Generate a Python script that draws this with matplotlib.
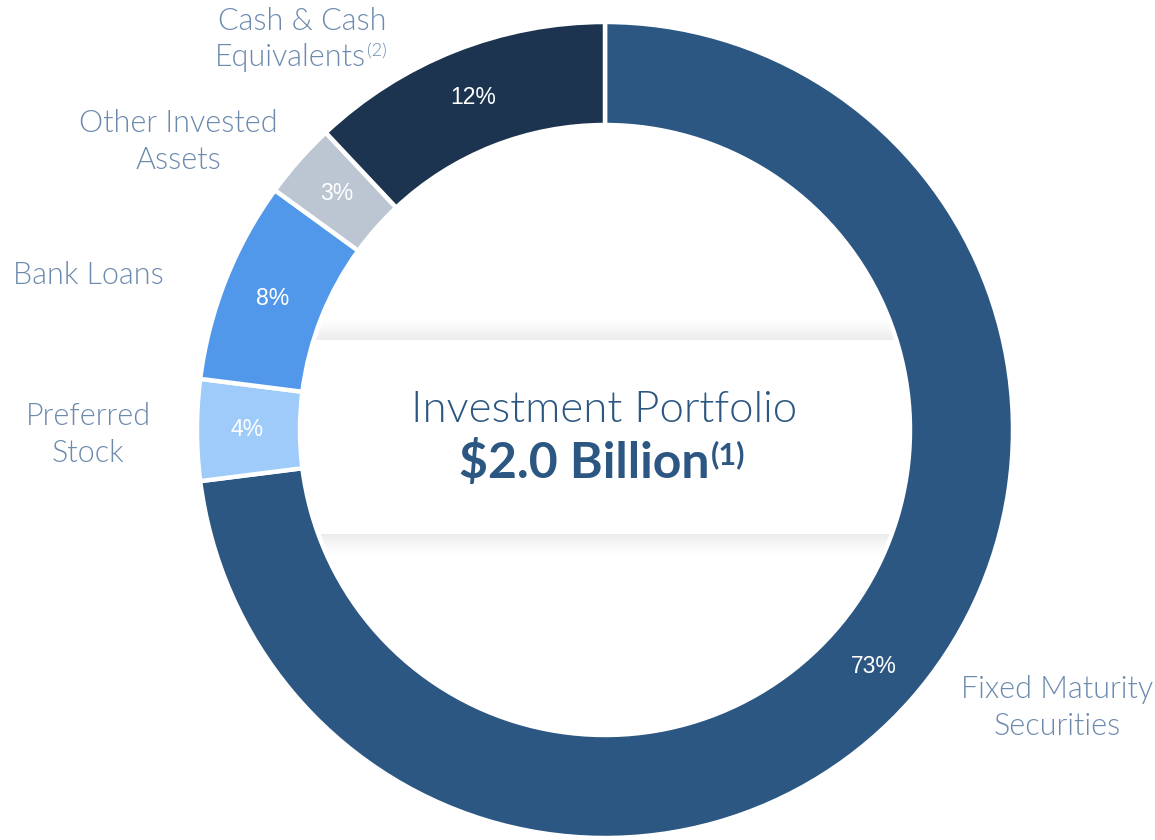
import numpy as np
import matplotlib
matplotlib.use("Agg")
import matplotlib.pyplot as plt
from matplotlib.patches import Circle

# data (clockwise from 12 o'clock)
categories = ["Fixed Maturity\nSecurities", "Preferred\nStock", "Bank Loans",
              "Other Invested\nAssets", "Cash & Cash\nEquivalents"]
shares = [73, 4, 8, 3, 12]
colors = ["#2C5782", "#9ECBFA", "#5298EA", "#BCC6D3", "#1C3450"]

label_color = "#6C8AAD"
title_color = "#2C5782"

fig = plt.figure(figsize=(11.55, 8.4), dpi=100)
ax = fig.add_axes([0, 0, 1, 1])

cx, cy = 605, 410
R = 408
ring = 103

wedges, _, autotexts = ax.pie(shares, colors=colors, startangle=90, counterclock=False,
                              center=(cx, cy), radius=R,
                              autopct=lambda p: f"{p:.0f}%", pctdistance=0.877,
                              wedgeprops=dict(width=ring, edgecolor="white", linewidth=3.2),
                              textprops=dict(color="white", fontsize=16.5, family="Liberation Sans"))
ax.set_xlim(0, 1155)
ax.set_ylim(0, 840)
ax.set_aspect("equal")
ax.axis("off")

# faint shaded band behind the title, clipped to the hole
hole = Circle((cx, cy), R - ring - 2, transform=ax.transData, facecolor="none", edgecolor="none")
ax.add_patch(hole)
g = np.zeros((40, 1, 4))
g[..., :3] = 0.84
g[:, 0, 3] = np.linspace(0, 0.45, 40)
top = ax.imshow(g, extent=(300, 910, 840 - 340, 840 - 320), origin="upper", aspect="auto", zorder=0.5)
top.set_clip_path(hole)
bot = ax.imshow(g[::-1], extent=(300, 910, 840 - 554, 840 - 534), origin="upper", aspect="auto", zorder=0.5)
bot.set_clip_path(hole)
ax.set_xlim(0, 1155)
ax.set_ylim(0, 840)

lab = dict(color=label_color, fontsize=22, family="Lato", fontweight=300,
           ha="center", va="center", linespacing=1.33)

ax.text(1057, 840 - 708, categories[0], **lab)
ax.text(88, 840 - 435, categories[1], **lab)
ax.text(88, 840 - 276, categories[2], **lab)
ax.text(178, 840 - 142, categories[3], **lab)
c1, c2 = categories[4].split("\n")
ax.text(302, 840 - 22, c1, **lab)
eq = ax.text(290, 840 - 58, c2, **lab)

ax.text(604, 840 - 411, "Investment Portfolio", color=title_color, fontsize=31.5,
        family="Lato", fontweight=300, ha="center", va="center")
big = ax.text(584, 840 - 463, "$2.0 Billion", color=title_color, fontsize=36,
              family="Lato", fontweight="bold", ha="center", va="center")

fig.canvas.draw()
inv = ax.transData.inverted()
r = fig.canvas.get_renderer()
bb = inv.transform(eq.get_window_extent(r))
ax.text(bb[1][0] + 1, 840 - 51, "(2)", color=label_color, fontsize=13,
        family="Lato", fontweight=300, ha="left", va="center")
bb = inv.transform(big.get_window_extent(r))
ax.text(bb[1][0] + 2, 840 - 455, "(1)", color=title_color, fontsize=22,
        family="Lato", fontweight="bold", ha="left", va="center")

fig.savefig("out.png", dpi=100, facecolor="white")
